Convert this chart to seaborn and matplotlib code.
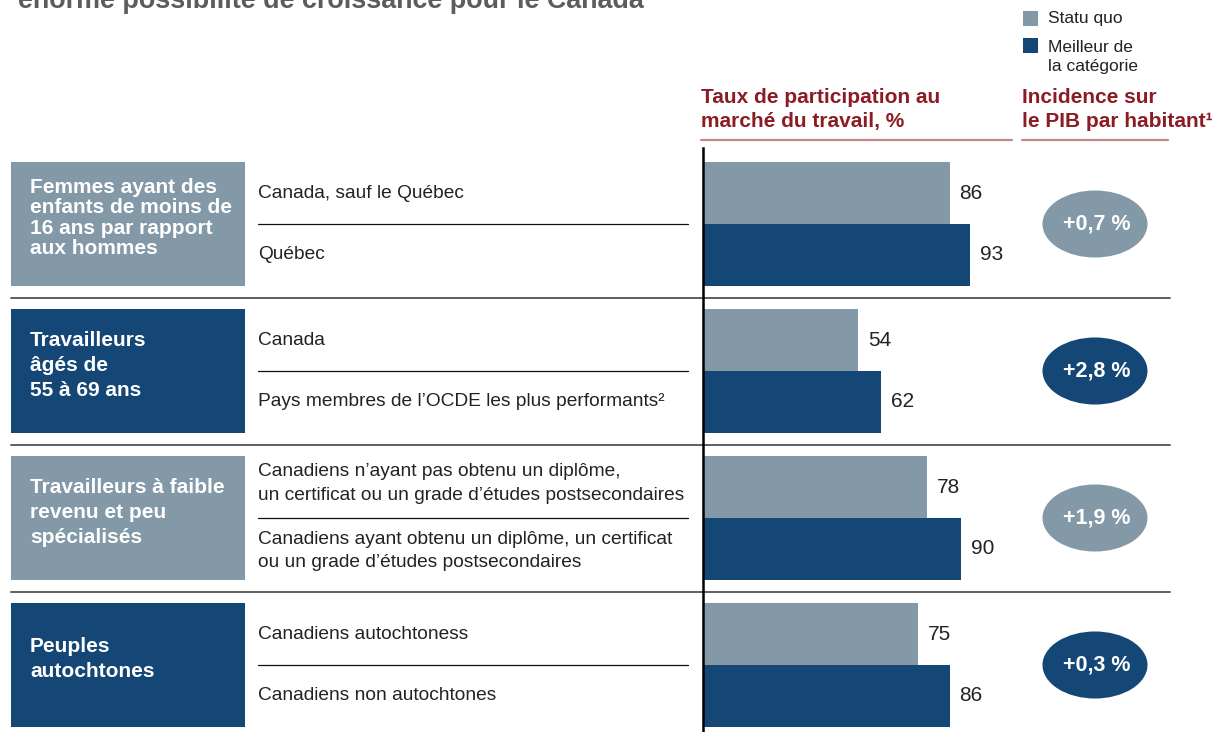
import matplotlib
matplotlib.use("Agg")
import matplotlib.pyplot as plt
import seaborn as sns
import pandas as pd
from matplotlib.patches import Rectangle, Ellipse
from matplotlib.lines import Line2D
from matplotlib.transforms import blended_transform_factory

# ---------------- data ----------------
groups = [
    "Femmes ayant des\nenfants de moins de\n16 ans par rapport\naux hommes",
    "Travailleurs\nâgés de\n55 à 69 ans",
    "Travailleurs à faible\nrevenu et peu\nspécialisés",
    "Peuples\nautochtones",
]
series = ["Statu quo", "Meilleur de\nla catégorie"]
statu_quo = [86, 54, 78, 75]
meilleur = [93, 62, 90, 86]
labels_statu = [
    "Canada, sauf le Québec",
    "Canada",
    "Canadiens n’ayant pas obtenu un diplôme,\nun certificat ou un grade d’études postsecondaires",
    "Canadiens autochtoness",
]
labels_meilleur = [
    "Québec",
    "Pays membres de l’OCDE les plus performants²",
    "Canadiens ayant obtenu un diplôme, un certificat\nou un grade d’études postsecondaires",
    "Canadiens non autochtones",
]
impact = ["+0,7 %", "+2,8 %", "+1,9 %", "+0,3 %"]
title = "énorme possibilité de croissance pour le Canada"
header_bars = "Taux de participation au\nmarché du travail, %"
header_impact = "Incidence sur\nle PIB par habitant¹"

# ---------------- style ----------------
GRAY = "#8399a7"
NAVY = "#144776"
RED = "#8c1c24"
PINK = "#c4868a"
SEP = "#5e5e5e"
FONT = "Liberation Sans"
box_colors = [GRAY, NAVY, GRAY, NAVY]
box_linespacing = [1.1, 1.4, 1.4, 1.4]
BAR_W = 0.837

sns.set_theme(style="white")
plt.rcParams["font.family"] = [FONT, "DejaVu Sans"]

W, H = 1230, 732
fig = plt.figure(figsize=(W / 100, H / 100), dpi=100)

# overlay axes in pixel coordinates
ov = fig.add_axes([0, 0, 1, 1], zorder=0)
ov.set_xlim(0, W)
ov.set_ylim(H, 0)
ov.axis("off")

# bar axes
top_px = 148
ax = fig.add_axes([703 / W, 0, 287 / W, (H - top_px) / H], zorder=1)
ax.patch.set_visible(False)

df = pd.DataFrame({
    "groupe": groups * 2,
    "serie": [series[0]] * len(groups) + [series[1]] * len(groups),
    "valeur": statu_quo + meilleur,
})
sns.barplot(data=df, y="groupe", x="valeur", hue="serie", order=groups,
            hue_order=series, palette=[GRAY, NAVY], width=BAR_W, orient="h",
            saturation=1, errorbar=None, legend=False, linewidth=0, ax=ax)
ax.set_xlim(0, 100)
ax.set_ylim((H - 224) / 147, (top_px - 224) / 147)
ax.set_xticks([])
ax.set_yticks([])
ax.set_xlabel("")
ax.set_ylabel("")
for s in ["top", "right", "bottom"]:
    ax.spines[s].set_visible(False)
ax.spines["left"].set_color("black")
ax.spines["left"].set_linewidth(1.8)
for cont in ax.containers:
    ax.bar_label(cont, padding=7, fontsize=15, color="#222222", fmt="%.0f")

tr = blended_transform_factory(ov.transData, ax.transData)

# separators between groups
for k in range(len(groups) - 1):
    ov.add_line(Line2D([11, 1170], [k + 0.5, k + 0.5], transform=tr,
                       color=SEP, lw=1.4))

for k, g in enumerate(groups):
    # category box
    ov.add_patch(Rectangle((11, k - BAR_W / 2), 234, BAR_W, transform=tr,
                           facecolor=box_colors[k], edgecolor="none"))
    ov.text(30, k - 0.04, g, transform=tr, color="white", fontweight="bold",
            fontsize=15, va="center", ha="left", linespacing=box_linespacing[k])
    # row labels
    top_off = -0.025 if "\n" in labels_statu[k] else 0.0
    bot_off = 0.015 if "\n" in labels_meilleur[k] else 0.0
    ov.text(258, k - BAR_W / 4 + top_off, labels_statu[k], transform=tr,
            fontsize=13.8, color="#222222", va="center", ha="left",
            linespacing=1.55)
    ov.text(258, k + BAR_W / 4 + bot_off, labels_meilleur[k], transform=tr,
            fontsize=13.8, color="#222222", va="center", ha="left",
            linespacing=1.45)
    ov.add_line(Line2D([258, 688], [k, k], transform=tr, color="#111111", lw=0.9))
    # impact ellipse
    ov.add_patch(Ellipse((1095, k), 105, 0.456, transform=tr,
                         facecolor=box_colors[k], edgecolor="none"))
    ov.text(1097, k, impact[k], transform=tr, color="white", fontweight="bold",
            fontsize=15.5, va="center", ha="center")

# headers
ov.text(701, 109.5, header_bars, color=RED, fontweight="bold", fontsize=15,
        va="center", ha="left", linespacing=1.37)
ov.text(1022, 109.5, header_impact, color=RED, fontweight="bold", fontsize=15,
        va="center", ha="left", linespacing=1.37)
ov.add_line(Line2D([701, 1012], [140, 140], color=PINK, lw=1.6))
ov.add_line(Line2D([1022, 1168], [140, 140], color=PINK, lw=1.6))

# legend
ov.add_patch(Rectangle((1023, 11), 15, 15, facecolor=GRAY, edgecolor="none"))
ov.text(1048, 19, series[0], fontsize=12.5, color="#222222", va="center", ha="left")
ov.add_patch(Rectangle((1023, 38), 15, 15, facecolor=NAVY, edgecolor="none"))
ov.text(1048, 57, series[1], fontsize=12.5, color="#222222", va="center",
        ha="left", linespacing=1.26)

# title (cut at top, as in the reference)
ov.text(18, 8, title, fontsize=19.4, fontweight="bold", color="#5c5c5c",
        va="baseline", ha="left")

fig.savefig("out.png", dpi=100)
